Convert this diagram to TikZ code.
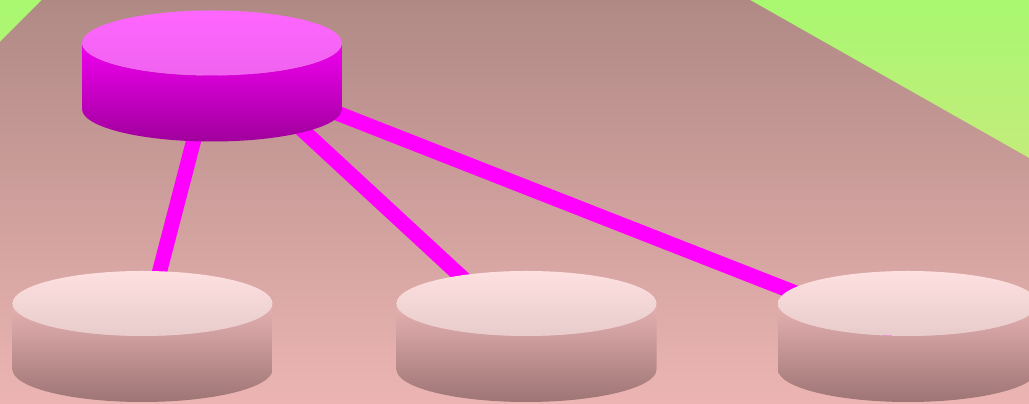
\documentclass[tikz,border=0pt]{standalone}
\usetikzlibrary{positioning}

\definecolor{grassTop}{HTML}{A8F870}
\definecolor{grassBot}{HTML}{EEDA8E}
\definecolor{floorTop}{HTML}{B08985}
\definecolor{floorBot}{HTML}{ECB5B3}
\definecolor{linkpink}{HTML}{FF00FF}
\definecolor{masterCapA}{HTML}{FF66FF}
\definecolor{masterCapB}{HTML}{F062F0}
\definecolor{masterSideA}{HTML}{F000F0}
\definecolor{masterSideB}{HTML}{A0009C}
\definecolor{slaveCapA}{HTML}{FDE0DF}
\definecolor{slaveCapB}{HTML}{E8CCCC}
\definecolor{slaveSideA}{HTML}{E6B2B2}
\definecolor{slaveSideB}{HTML}{9E7474}

\tikzset{
    link/.style={line width=0.3cm, draw=linkpink},
    pics/drum/.style n args={4}{code={
        \shade[top color=#1, bottom color=#2]
            (-130,0) -- (-130,-66)
            arc[start angle=180, end angle=360, x radius=130, y radius=32.5]
            -- (130,0)
            arc[start angle=0, end angle=-180, x radius=130, y radius=32.5]
            -- cycle;
        \shade[top color=#3, bottom color=#4]
            (0,0) ellipse[x radius=130, y radius=32.5];
    }}
}

\begin{document}
\begin{tikzpicture}[x=0.02cm,y=0.02cm]
    \clip (0,0) rectangle (1029,-404);
    \shade[top color=grassTop, bottom color=grassBot]
        (0,0) rectangle (1029,-404);
    \shade[top color=floorTop, bottom color=floorBot]
        (0,-42) -- (42,0) -- (750,0) -- (1029,-158)
        -- (1029,-404) -- (0,-404) -- cycle;

    % where the links leave the master and reach the slaves
    \coordinate (masterL) at (217,-51);
    \coordinate (masterR) at (217,-66);
    \coordinate (slaveA) at (142.5,-337);
    \coordinate (slaveB) at (526.5,-337);
    \coordinate (slaveC) at (908,-337);

    \draw[link] (masterL) -- (slaveA);
    \draw[link] (masterL) -- (slaveB);
    \draw[link] (masterR) -- (slaveC);

    \pic at (212,-43) {drum={masterSideA}{masterSideB}{masterCapA}{masterCapB}};
    \foreach \x in {142.5,526.5,908}
        \pic at (\x,-303.5) {drum={slaveSideA}{slaveSideB}{slaveCapA}{slaveCapB}};
\end{tikzpicture}
\end{document}
